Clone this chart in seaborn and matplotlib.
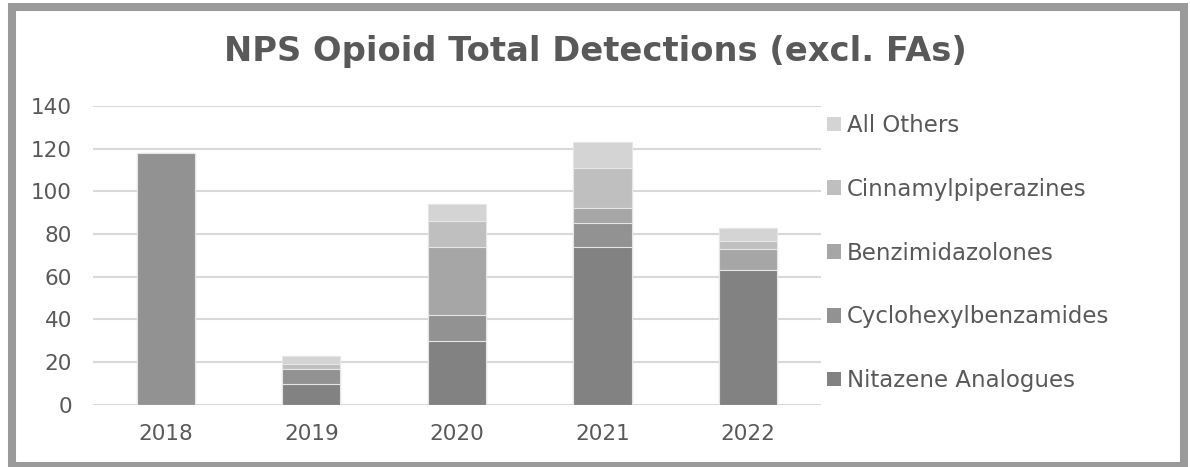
import numpy as np
import pandas as pd
import matplotlib
matplotlib.use("Agg")
import matplotlib.pyplot as plt
import seaborn as sns
from matplotlib.patches import Rectangle, Patch

years = ["2018", "2019", "2020", "2021", "2022"]
categories = ["Nitazene Analogues", "Cyclohexylbenzamides", "Benzimidazolones",
              "Cinnamylpiperazines", "All Others"]
nitazene = [0, 10, 30, 74, 63]
cyclohexyl = [118, 7, 12, 11, 0]
benzimidazolones = [0, 0, 32, 7, 10]
cinnamyl = [0, 2, 12, 19, 4]
others = [0, 4, 8, 12, 6]
colors = ["#828282", "#929292", "#a6a6a6", "#bfbfbf", "#d4d4d4"]

series = [nitazene, cyclohexyl, benzimidazolones, cinnamyl, others]

sns.set_theme(style="white")
plt.rcParams['font.family'] = ['DejaVu Sans']

fig = plt.figure(figsize=(11.9, 4.67), dpi=100)
ax = fig.add_axes([0.078, 0.133, 0.612, 0.640])

cum = np.cumsum(np.array(series), axis=0)
# draw from top layer down so lower segments overlay
for i in range(len(categories) - 1, -1, -1):
    df = pd.DataFrame({"year": years, "value": cum[i]})
    sns.barplot(data=df, x="year", y="value", color=colors[i], width=0.4,
                edgecolor="#e6e6e6", linewidth=0.8, ax=ax, saturation=1)

ax.set_ylim(0, 140)
ax.set_yticks(range(0, 141, 20))
ax.set_xlim(-0.5, 4.5)
ax.yaxis.grid(True, color="#d9d9d9", linewidth=1.5)
ax.set_axisbelow(True)
for s in ax.spines.values():
    s.set_visible(False)
ax.set_xlabel("")
ax.set_ylabel("")
ax.tick_params(axis="both", colors="#595959", labelsize=15.5, length=0)
ax.tick_params(axis="y", pad=15)
ax.tick_params(axis="x", pad=14)

handles = [Patch(facecolor=colors[i], edgecolor="none", label=categories[i])
           for i in range(len(categories) - 1, -1, -1)]
leg = fig.legend(handles=handles, loc="upper left", bbox_to_anchor=(0.678, 0.80),
                 frameon=False, fontsize=16.5, labelcolor="#595959",
                 handlelength=0.6, handleheight=0.6, handletextpad=0.25,
                 labelspacing=1.78)

fig.suptitle("NPS Opioid Total Detections (excl. FAs)", x=0.5, y=0.925,
             fontsize=24.3, fontweight="bold", color="#595959")

fig.patches.append(Rectangle((12 / 1190, 1 / 467), (1183.5 - 12) / 1190, 459 / 467,
                             transform=fig.transFigure,
                             fill=False, edgecolor="#9a9a9a", linewidth=5.8))

fig.savefig("out.png", dpi=100, facecolor="white")
